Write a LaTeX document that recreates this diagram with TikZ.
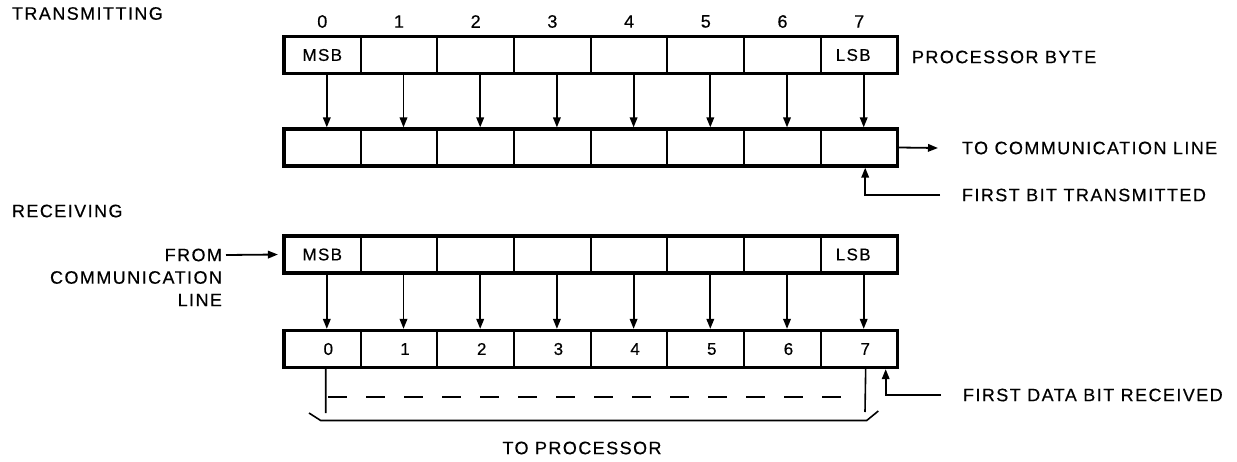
\documentclass[tikz,border=0pt]{standalone}
\usepackage{fontspec}
\setmainfont[LetterSpace=8,FakeBold=0.4]{Liberation Sans}
\usetikzlibrary{arrows.meta}
\begin{document}
\begin{tikzpicture}[x=1pt,y=-1pt,
  lbl/.style={font=\fontsize{18}{20}\selectfont, inner sep=0pt, outer sep=0pt},
  cell/.style={draw, line width=2pt, minimum width=76.7pt, minimum height=37pt,
    inner sep=0pt, outer sep=0pt, font=\fontsize{17}{18}\selectfont},
  frame/.style={line width=3.3pt},
  arr/.style={line width=1.8pt, -{Triangle[length=10pt,width=7.5pt]}},
  thinline/.style={line width=1.6pt}]
\useasboundingbox (0,0) rectangle (1237,461);

% ---------- TRANSMITTING ----------
\node[lbl, anchor=west] (trans) at (12,13.5) {TRANSMITTING};
\foreach \i in {0,...,7}{
  \node[lbl] (n\i) at ({322.3+76.7*\i},21.5) {\i};
}
\foreach \i/\txt in {0/MSB,1/{},2/{},3/{},4/{},5/{},6/{},7/{LSB\hspace*{12pt}}}{
  \node[cell] (t\i) at ({322.3+76.7*\i},55) {\txt};
}
\draw[frame] (t0.north west) rectangle (t7.south east);
\node[lbl, anchor=west] (pbyte) at (912,57) {PROCESSOR BYTE};

\foreach \i in {0,...,7}{
  \node[cell] (u\i) at ({322.3+76.7*\i},147.5) {};
}
\draw[frame] (u0.north west) rectangle (u7.south east);
\foreach \i in {0,...,7}{
  \draw[arr, shorten >=1.6pt] ([xshift=4.5pt]t\i.south) -- ([xshift=4.5pt]u\i.north);
}
\node[lbl, anchor=west] (tcl) at (962,148) {TO COMMUNICATION LINE};
\draw[arr] ([xshift=1.6pt]u7.east) -- ([xshift=-24pt]tcl.west);
\node[lbl, anchor=west] (fbt) at (962,195) {FIRST BIT TRANSMITTED};
\draw[arr, shorten >=1.6pt] ([xshift=-22pt]fbt.west) -| ([xshift=6pt]u7.south);

% ---------- RECEIVING ----------
\node[lbl, anchor=west] (recv) at (12,211) {RECEIVING};
\node[lbl, anchor=east] (from) at (222,255) {FROM};
\node[lbl, anchor=east] (comm) at (222,277.5) {COMMUNICATION};
\node[lbl, anchor=east] (line) at (222,300) {LINE};

\foreach \i/\txt in {0/MSB,1/{},2/{},3/{},4/{},5/{},6/{},7/{LSB\hspace*{12pt}}}{
  \node[cell] (r\i) at ({322.3+76.7*\i},254.5) {\txt};
}
\draw[frame] (r0.north west) rectangle (r7.south east);
\draw[arr] ([xshift=4pt]from.east) -- ([xshift=-6pt]r0.west);

\foreach \i in {0,...,7}{
  \node[cell] (s\i) at ({322.3+76.7*\i},349) {\hspace*{12pt}\i};
}
\draw[frame] (s0.north west) rectangle (s7.south east);
\foreach \i in {0,...,7}{
  \draw[arr, shorten >=1.6pt] ([xshift=4.5pt]r\i.south) -- ([xshift=4.5pt]s\i.north);
}

\node[lbl, anchor=west] (fdbr) at (963,395) {FIRST DATA BIT RECEIVED};
\draw[arr, shorten >=1.6pt] ([xshift=-22pt]fdbr.west) -| ([xshift=26.5pt]s7.south);

% to processor bracket
\coordinate (bl) at (325.7,413);
\coordinate (br) at (865,412);
\draw[thinline] ([xshift=3.5pt]s0.south) -- (bl);
\draw[thinline] ([xshift=6.5pt]s7.south) -- (br);
\draw[thinline, dash pattern=on 19pt off 19pt] (328,397) -- (850,397);
\draw[thinline] (309,413) -- (320.7,420.5) -- (866.7,420.5) -- (878.3,411);
\node[lbl] (tproc) at (582,448) {TO PROCESSOR};
\end{tikzpicture}
\end{document}
